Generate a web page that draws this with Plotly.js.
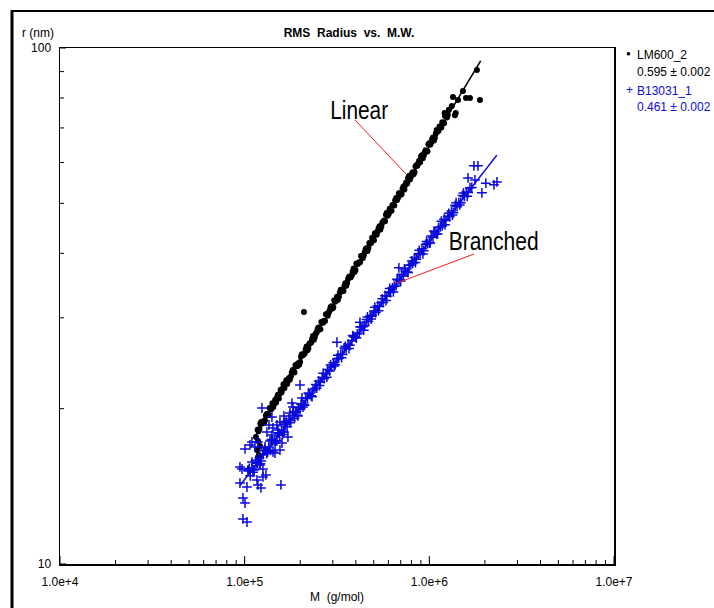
<!DOCTYPE html>
<html>
<head>
<meta charset="utf-8">
<script src="https://cdn.plot.ly/plotly-3.0.1.min.js"></script>
<style>html,body{margin:0;padding:0;background:#fff;}#chart{width:714px;height:608px;}</style>
</head>
<body>
<div id="chart"></div>
<script>
// ---------------- DATA ----------------
const chartTitle = 'RMS\u00a0\u00a0Radius\u00a0\u00a0vs.\u00a0\u00a0M.W.';
const xTitle = 'M\u00a0\u00a0(g/mol)';
const yTitle = 'r\u00a0(nm)';
const seriesNames = ['LM600_2', 'B13031_1'];
const slopeTexts = ['0.595 \u00b1 0.002', '0.461 \u00b1 0.002'];
const calloutLabels = ['Linear', 'Branched'];
const xDecades = [1e4, 1e5, 1e6, 1e7];
const yDecades = [10, 100];
const minorDigits = [2, 3, 4, 5, 6, 7, 8, 9];

// Linear sample (LM600_2): molar mass M (g/mol) and RMS radius r (nm)
const linearM = [
  116600, 119500, 118100, 121000, 118100, 115100,
  117500, 120200, 123000, 125900, 128800, 131800, 134900, 138000, 141300, 144500,
  147900, 151400, 154900, 158500, 162200, 166000, 169800, 173800, 177800, 182000,
  186200, 190500, 195000, 199500, 204200, 208900, 213800, 218800, 223900, 229100,
  234400, 239900, 245500, 251200, 257000, 263000, 269200, 275400, 281800, 288400,
  295100, 302000, 309000, 316200, 323600, 331100, 338800, 346700, 354800, 363100,
  371500, 380200, 389000, 398100, 407400, 416900, 426600, 436500, 446700, 457100,
  467700, 478600, 489800, 501200, 512900, 524800, 537000, 549500, 562300, 575400,
  588800, 602600, 616600, 631000, 645700, 660700, 676100, 691800, 707900, 724400,
  741300, 758600, 776200, 794300, 812800, 831800, 851100, 871000, 891300, 912000,
  933300, 955000, 977200, 1000000, 1023000, 1047000, 1072000, 1096000, 1122000, 1148000,
  1175000, 1202000, 1230000, 1259000,
  118900, 121600, 124400, 127400, 130300, 133300, 136500, 139600, 142900, 146200,
  149600, 153200, 156700, 160300, 164100, 167900, 171800, 175800, 179900, 184100,
  188400, 192700, 197300, 201800, 206600, 211300, 216300, 221300, 226500, 231800,
  237100, 242700, 248300, 254100, 260000, 266000, 272300, 278600, 285100, 291800,
  298500, 305500, 312600, 319900, 327400, 334900, 342700, 350700, 358900, 367300,
  375800, 384600, 393500, 402700, 412100, 421700, 431500, 441600, 451900, 462400,
  473100, 484200, 495500, 507000, 518800, 530900, 543200, 555900, 568800, 582100,
  595600, 609600, 623800, 638300, 653200, 668400, 683900, 699800, 716100, 732800,
  749900, 767400, 785200, 803500, 822200, 841400, 861000, 881100, 901600, 922600,
  944100, 966100, 988500, 1011600, 1034900, 1059100, 1084400, 1108700, 1135000, 1161300,
  1188600, 1215900, 1244300,
  1210000, 1276000, 1324000, 1376000, 1390000, 1343000, 1430000, 1520000, 1580000, 1660000, 1880000, 1810000,
  209400
];
const linearR = [
  16.63, 16.26, 16.05, 16.93, 17.32, 17.63,
  18.21, 18.26, 18.84, 18.89, 18.99, 19.54, 19.43, 20.00, 20.48, 20.43,
  20.55, 21.27, 21.37, 21.52, 22.30, 22.36, 22.33, 22.93, 23.10, 23.76,
  23.51, 24.33, 24.50, 24.62, 25.51, 25.48, 26.05, 25.97, 26.71, 26.86,
  27.65, 27.53, 28.10, 28.74, 28.50, 29.41, 29.62, 30.47, 30.26, 30.99,
  31.57, 31.42, 32.22, 32.96, 32.97, 34.01, 33.82, 34.58, 34.62, 35.68,
  35.96, 36.29, 37.37, 37.14, 38.15, 38.43, 39.54, 39.17, 40.21, 40.93,
  40.96, 41.81, 42.86, 42.40, 43.76, 44.07, 45.15, 45.11, 46.11, 46.18,
  47.94, 47.70, 48.39, 49.60, 49.52, 51.19, 51.23, 52.27, 52.12, 53.93,
  54.24, 54.61, 56.50, 56.27, 57.42, 57.47, 59.26, 59.70, 60.03, 61.99,
  61.92, 63.35, 63.08, 65.40, 65.58, 67.06, 66.97, 69.33, 69.13, 70.38,
  71.82, 71.49, 74.13, 74.16,
  18.09, 18.71, 18.72, 18.77, 19.40, 19.54, 20.06, 19.96, 20.15, 20.80,
  21.03, 20.93, 21.75, 21.85, 21.91, 22.70, 22.62, 22.79, 23.49, 23.66,
  24.28, 24.17, 24.34, 25.23, 25.40, 25.59, 26.38, 26.19, 26.77, 27.30,
  27.21, 27.97, 28.54, 28.49, 29.45, 29.34, 29.56, 30.47, 30.70, 31.43,
  31.28, 32.43, 32.37, 32.52, 33.55, 33.86, 33.82, 35.01, 35.06, 36.04,
  35.96, 36.87, 36.79, 38.21, 38.24, 38.43, 39.54, 39.66, 40.79, 40.43,
  41.90, 41.92, 42.77, 43.73, 43.47, 44.74, 44.49, 45.87, 46.30, 47.51,
  47.29, 48.81, 48.39, 49.71, 50.72, 50.76, 52.32, 51.94, 53.42, 53.17,
  54.86, 55.99, 55.62, 57.02, 56.92, 58.96, 59.14, 60.45, 61.65, 61.11,
  62.78, 62.93, 65.08, 64.97, 66.58, 66.20, 68.26, 68.90, 70.42, 70.10,
  71.66, 73.79, 73.31,
  74.8, 75.9, 77.2, 74.1, 74.8, 80.4, 79.3, 82.5, 80.0, 80.0, 79.3, 90.6,
  30.8
];

// Branched sample (B13031_1)
const branchedM = [
  97900, 102900, 97900, 100400, 94300, 102900, 96700, 94300, 104200, 157200,
  118000, 122500, 116600, 125600, 130400, 125600, 112300, 121000, 109500, 100400,
  106800, 113700, 109500, 128800, 118000, 132000, 142300, 145900, 155300, 137100,
  149600, 159200, 140500, 132000, 142300, 151400, 163200, 171500, 124100, 140500,
  135400, 149600, 155300, 163200, 163200, 180300, 175900, 189600, 199300, 182600,
  194400, 206900, 204300,
  104700, 107200, 109600, 112200, 114800, 117500, 120200, 123000, 125900, 128800,
  131800, 134900, 138000, 141300, 144500, 147900, 151400, 154900, 158500, 162200,
  166000, 169800, 173800, 177800, 182000, 186200, 190500, 195000, 199500, 204200,
  208900, 213800, 218800, 223900, 229100, 234400, 239900, 245500, 251200, 257000,
  263000, 269200, 275400, 281800, 288400, 295100, 302000, 309000, 316200, 323600,
  331100, 338800, 346700, 354800, 363100, 371500, 380200, 389000, 398100, 407400,
  416900, 426600, 436500, 446700, 457100, 467700, 478600, 489800, 501200, 512900,
  524800, 537000, 549500, 562300, 575400, 588800, 602600, 616600, 631000, 645700,
  660700, 676100, 691800, 707900, 724400, 741300, 758600, 776200, 794300, 812800,
  831800, 851100, 871000, 891300, 912000, 933300, 955000, 977200, 1000000, 1023000,
  1047000, 1072000, 1096000, 1122000, 1148000, 1175000, 1202000, 1230000, 1259000, 1288000,
  1318000, 1349000, 1380000, 1413000, 1445000, 1479000, 1514000, 1549000, 1585000, 1622000,
  1660000, 1698000,
  105900, 110900, 116100, 121600, 127400, 133300, 139600, 146200, 153200, 160300,
  167900, 175800, 184100, 192700, 201800, 211300, 221300, 231800, 242700, 254100,
  266000, 278600, 291800, 305500, 319900, 334900, 350700, 367300, 384600, 402700,
  421700, 441600, 462400, 484200, 507000, 530900, 555900, 582100, 609600, 638300,
  668400, 699800, 732800, 767400, 803500, 841400, 881100, 922600, 966100, 1011600,
  1059100, 1108700, 1161300, 1215900, 1273600, 1333300, 1396000, 1461800, 1531500, 1603400,
  1620000, 1744000, 1834000, 2023000, 2323000, 2238000, 1926000, 1766000, 684000, 316000, 421000
];
const branchedR = [
  12.23, 12.06, 13.43, 13.13, 14.35, 14.10, 15.28, 15.42, 15.21, 14.23,
  14.23, 14.04, 14.55, 14.75, 14.88, 15.28, 15.21, 15.56, 15.76, 16.71,
  17.01, 16.86, 17.24, 16.86, 17.24, 16.49, 16.49, 16.41, 16.63, 17.32,
  17.32, 17.16, 17.78, 18.02, 18.35, 18.19, 18.02, 17.62, 20.06, 19.27,
  18.60, 18.60, 18.85, 18.76, 19.36, 20.51, 19.62, 19.71, 22.23, 20.15,
  19.36, 20.15, 20.98,
  15.14, 14.82, 15.35, 15.24, 15.89, 15.67, 16.05, 15.84, 16.29, 16.70,
  16.37, 16.85, 16.61, 17.33, 17.32, 17.35, 17.96, 17.77, 18.19, 18.03,
  18.63, 18.44, 19.11, 18.97, 19.39, 19.17, 19.72, 20.10, 19.93, 20.39,
  20.39, 20.99, 20.92, 21.38, 21.18, 21.74, 21.88, 21.92, 22.63, 22.49,
  22.99, 22.86, 23.37, 23.83, 23.66, 24.07, 24.54, 24.33, 24.96, 25.06,
  25.50, 25.48, 26.22, 26.14, 26.66, 26.53, 27.11, 27.57, 27.51, 27.92,
  28.03, 28.78, 28.83, 29.00, 29.77, 29.50, 30.21, 30.33, 30.92, 30.72,
  31.67, 31.57, 32.13, 32.11, 33.10, 33.02, 33.66, 33.58, 34.30, 34.52,
  34.58, 35.51, 35.57, 36.43, 36.17, 36.96, 36.79, 37.91, 37.99, 38.24,
  39.25, 38.95, 39.81, 39.97, 40.84, 40.47, 41.62, 41.79, 41.88, 43.22,
  42.96, 44.02, 43.59, 44.85, 45.03, 45.21, 46.59, 46.39, 47.18, 47.09,
  48.31, 47.94, 49.56, 49.31, 50.17, 50.15, 51.80, 51.57, 52.56, 52.46,
  53.61, 53.68,
  15.32, 15.06, 15.73, 15.65, 16.57, 16.50, 17.43, 17.14, 17.93, 17.82,
  18.90, 18.78, 19.74, 19.43, 20.41, 20.31, 21.46, 21.10, 22.27, 22.17,
  23.42, 23.02, 24.31, 24.19, 25.39, 25.11, 26.41, 26.15, 27.71, 27.41,
  28.82, 28.39, 30.11, 29.84, 31.45, 30.97, 32.65, 32.40, 34.19, 33.68,
  35.65, 35.35, 37.32, 36.74, 38.66, 38.38, 40.55, 39.89, 42.18, 41.91,
  44.18, 43.62, 46.16, 45.43, 47.81, 47.46, 50.15, 49.65, 52.38, 51.60,
  56.0, 59.1, 59.1, 54.7, 55.0, 54.3, 52.4, 55.5, 37.5, 26.9, 29.4
];

// Fitted power-law lines (end points)
const linearFitM = [114000, 1896000];
const linearFitR = [17.7, 94.4];
const branchedFitM = [94300, 2320000];
const branchedFitR = [14.2, 62.0];

// ---------------- STYLE ----------------
const BLACK = '#000000';
const BLUE = '#0a0adc';
const RED = '#ff1a1a';
const FONT = 'Liberation Sans, Arial, Helvetica, sans-serif';
const X_RANGE = [4, 7];   // log10 range of M axis
const Y_RANGE = [1, 2];   // log10 range of r axis

// pixel -> paper helpers for layout items (plot area 60..614 x 48..564)
const PL = 60, PW = 554, PB = 564, PH = 516;
const px = v => (v - PL) / PW;
const py = v => (PB - v) / PH;

// tick positions: decades plus digits 2..9 within each decade
const allTicks = decs => {
  const out = [];
  decs.forEach((d, i) => {
    out.push(d);
    if (i < decs.length - 1) minorDigits.forEach(k => out.push(d * k));
  });
  return out;
};
const xTickVals = allTicks(xDecades);
const yTickVals = allTicks(yDecades);

// inside tick marks drawn as paper-referenced segments on the axis values
const tickShapes = [];
xTickVals.forEach(v => {
  const f = (Math.log10(v) - X_RANGE[0]) / (X_RANGE[1] - X_RANGE[0]);
  const len = xDecades.includes(v) ? 8 : 4;
  tickShapes.push({type: 'line', xref: 'paper', yref: 'paper', x0: f, x1: f, y0: 0, y1: len / PH,
                   line: {color: BLACK, width: 1}});
});
yTickVals.forEach(v => {
  const f = (Math.log10(v) - Y_RANGE[0]) / (Y_RANGE[1] - Y_RANGE[0]);
  const len = yDecades.includes(v) ? 6 : 4;
  tickShapes.push({type: 'line', xref: 'paper', yref: 'paper', x0: 0, x1: len / PW, y0: f, y1: f,
                   line: {color: BLACK, width: 1}});
});

const traces = [
  {x: linearM, y: linearR, type: 'scatter', mode: 'markers', name: seriesNames[0],
   marker: {symbol: 'circle', size: 6, color: BLACK}, hoverinfo: 'x+y'},
  {x: branchedM, y: branchedR, type: 'scatter', mode: 'markers', name: seriesNames[1],
   marker: {symbol: 'cross-thin', size: 7, color: BLUE, line: {color: BLUE, width: 1.5}}, hoverinfo: 'x+y'},
  {x: linearFitM, y: linearFitR, type: 'scatter', mode: 'lines', name: seriesNames[0] + ' fit',
   line: {color: BLACK, width: 1.6}, hoverinfo: 'skip'},
  {x: branchedFitM, y: branchedFitR, type: 'scatter', mode: 'lines', name: seriesNames[1] + ' fit',
   line: {color: BLUE, width: 1.6}, hoverinfo: 'skip'}
];

const axisCommon = {
  type: 'log', tickmode: 'array', showgrid: false, zeroline: false,
  showline: true, linecolor: BLACK, linewidth: 1.5, mirror: true,
  ticks: 'inside', tickcolor: BLACK, tickwidth: 1, ticklen: 4,
  tickfont: {family: FONT, size: 12, color: BLACK}
};

const layout = {
  width: 714, height: 608,
  margin: {l: PL, r: 714 - PL - PW, t: 48, b: 608 - PB},
  paper_bgcolor: '#ffffff', plot_bgcolor: '#ffffff',
  showlegend: false,
  font: {family: FONT, size: 12, color: BLACK},
  title: {text: chartTitle, x: 349 / 714, xref: 'container', xanchor: 'center',
          y: 1 - 33 / 608, yref: 'container', yanchor: 'middle',
          font: {family: FONT, size: 12, weight: 'bold', color: BLACK}},
  xaxis: Object.assign({}, axisCommon, {
    range: X_RANGE, tickvals: xDecades, tickformat: '.1e', ticklabelstandoff: 6,
    title: {text: xTitle, standoff: 4, font: {family: FONT, size: 12, color: BLACK}}
  }),
  yaxis: Object.assign({}, axisCommon, {
    range: Y_RANGE, tickvals: yDecades, ticklabelstandoff: 5,
    title: {text: ''}
  }),
  shapes: [
    // outer frame (left and top edges)
    {type: 'line', xref: 'paper', yref: 'paper', x0: px(12), x1: px(12), y0: py(620), y1: py(10),
     line: {color: BLACK, width: 3}},
    {type: 'line', xref: 'paper', yref: 'paper', x0: px(11), x1: px(720), y0: py(11), y1: py(11),
     line: {color: BLACK, width: 2}},
    // callout lines
    {type: 'line', xref: 'paper', yref: 'paper', x0: px(355), y0: py(120), x1: px(406), y1: py(174),
     line: {color: RED, width: 1}},
    {type: 'line', xref: 'paper', yref: 'paper', x0: px(474), y0: py(254), x1: px(397), y1: py(283),
     line: {color: RED, width: 1}}
  ].concat(tickShapes),
  annotations: [
    {text: yTitle, xref: 'paper', yref: 'paper', x: px(38), y: py(33), xanchor: 'center', yanchor: 'middle',
     showarrow: false, font: {family: FONT, size: 12, color: BLACK}},
    {text: calloutLabels[0], xref: 'paper', yref: 'paper', x: px(359), y: py(110), xanchor: 'center', yanchor: 'middle',
     showarrow: false, font: {family: FONT, size: 26, color: BLACK}},
    {text: calloutLabels[1], xref: 'paper', yref: 'paper', x: px(493), y: py(241), xanchor: 'center', yanchor: 'middle',
     showarrow: false, font: {family: FONT, size: 26, color: BLACK}},
    // legend block
    {text: '\u25cf', xref: 'paper', yref: 'paper', x: px(628.5), y: py(53), xanchor: 'center', yanchor: 'middle',
     showarrow: false, font: {family: FONT, size: 8, color: BLACK}},
    {text: seriesNames[0], xref: 'paper', yref: 'paper', x: px(635), y: py(55), xanchor: 'left', yanchor: 'middle',
     showarrow: false, font: {family: FONT, size: 12, color: BLACK}},
    {text: slopeTexts[0], xref: 'paper', yref: 'paper', x: px(635), y: py(72), xanchor: 'left', yanchor: 'middle',
     showarrow: false, font: {family: FONT, size: 12, color: BLACK}},
    {text: '+', xref: 'paper', yref: 'paper', x: px(629), y: py(90), xanchor: 'center', yanchor: 'middle',
     showarrow: false, font: {family: FONT, size: 12, color: BLUE}},
    {text: seriesNames[1], xref: 'paper', yref: 'paper', x: px(635), y: py(91), xanchor: 'left', yanchor: 'middle',
     showarrow: false, font: {family: FONT, size: 12, color: BLUE}},
    {text: slopeTexts[1], xref: 'paper', yref: 'paper', x: px(635), y: py(107), xanchor: 'left', yanchor: 'middle',
     showarrow: false, font: {family: FONT, size: 12, color: BLUE}}
  ]
};

// callout words are set in a condensed face in the original: squeeze them to the measured width
const calloutWidths = {Linear: 58, Branched: 90};

Plotly.newPlot('chart', traces, layout, {displayModeBar: false, staticPlot: true}).then(gd => {
  gd.querySelectorAll('text.annotation-text').forEach(t => {
    const w = calloutWidths[t.textContent];
    if (w) {
      t.setAttribute('textLength', w);
      t.setAttribute('lengthAdjust', 'spacingAndGlyphs');
    }
  });
});
</script>
</body>
</html>
